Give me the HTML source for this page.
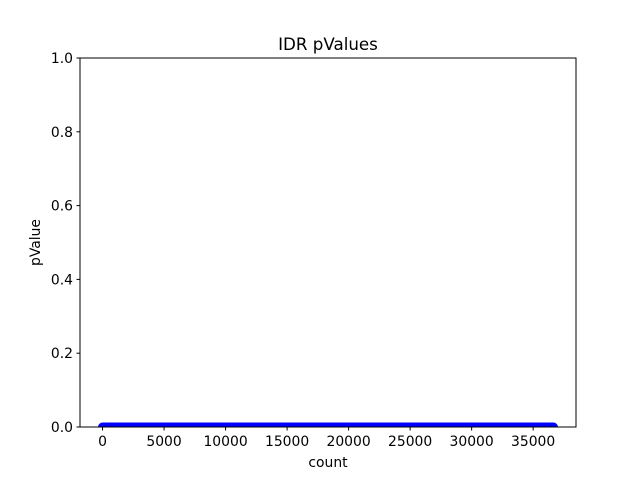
<!DOCTYPE html>
<html><head><meta charset="utf-8"><style>
body{margin:0;background:#fff;}
svg text{font-family:"DejaVu Sans","Liberation Sans",sans-serif;fill:#000;}
</style></head><body>
<svg id="chart" width="640" height="480" xmlns="http://www.w3.org/2000/svg">
<rect width="640" height="480" fill="#fff"/>
<defs><clipPath id="clip"><rect x="80" y="58" width="496" height="369"/></clipPath></defs>
<text x="328" y="50" font-size="16.7" text-anchor="middle">IDR pValues</text>
<g id="series" clip-path="url(#clip)"></g>
<rect x="80" y="58" width="496" height="369" fill="none" stroke="#000" stroke-width="1"/>
<g id="xt"></g><g id="yt"></g>
<text x="328" y="467" font-size="13.9" text-anchor="middle">count</text>
<text x="0" y="0" font-size="13.9" text-anchor="middle" transform="translate(40,242.5) rotate(-90)">pValue</text>
</svg>
<script>
const counts = [0, 36650];
const pvalues = [0, 0];
const xTicks = [0, 5000, 10000, 15000, 20000, 25000, 30000, 35000];
const yTicks = [0.0, 0.2, 0.4, 0.6, 0.8, 1.0];
const NS = "http://www.w3.org/2000/svg";
const xMin = -1832.5, xMax = 38482.5;
const X = v => 80 + (v - xMin) / (xMax - xMin) * 496;
const Y = v => 427 - v * 369;
const series = document.getElementById('series');
const p = document.createElementNS(NS, 'path');
p.setAttribute('d', counts.map((c, i) => (i ? 'L' : 'M') + X(c) + ',' + Y(pvalues[i])).join(''));
p.setAttribute('stroke', '#0000ff');
p.setAttribute('stroke-width', '9');
p.setAttribute('stroke-linecap', 'round');
p.setAttribute('fill', 'none');


series.appendChild(p);
const xt = document.getElementById('xt');
xTicks.forEach(t => {
  const x = X(t);
  const l = document.createElementNS(NS, 'line');
  l.setAttribute('x1', x); l.setAttribute('x2', x); l.setAttribute('y1', 427); l.setAttribute('y2', 430.5);
  l.setAttribute('stroke', '#000');
  
  
  xt.appendChild(l);
  const tx = document.createElementNS(NS, 'text');
  tx.setAttribute('x', x); tx.setAttribute('y', 446); tx.setAttribute('font-size', '13.9'); tx.setAttribute('text-anchor', 'middle');
  tx.textContent = t;
  
  
  xt.appendChild(tx);
});
const yt = document.getElementById('yt');
yTicks.forEach(t => {
  const y = Y(t);
  const l = document.createElementNS(NS, 'line');
  l.setAttribute('x1', 76.5); l.setAttribute('x2', 80); l.setAttribute('y1', y); l.setAttribute('y2', y);
  l.setAttribute('stroke', '#000');
  
  
  yt.appendChild(l);
  const tx = document.createElementNS(NS, 'text');
  tx.setAttribute('x', 73); tx.setAttribute('y', y + 5); tx.setAttribute('font-size', '13.9'); tx.setAttribute('text-anchor', 'end');
  tx.textContent = t.toFixed(1);
  
  
  yt.appendChild(tx);
});
</script>
</body></html>
